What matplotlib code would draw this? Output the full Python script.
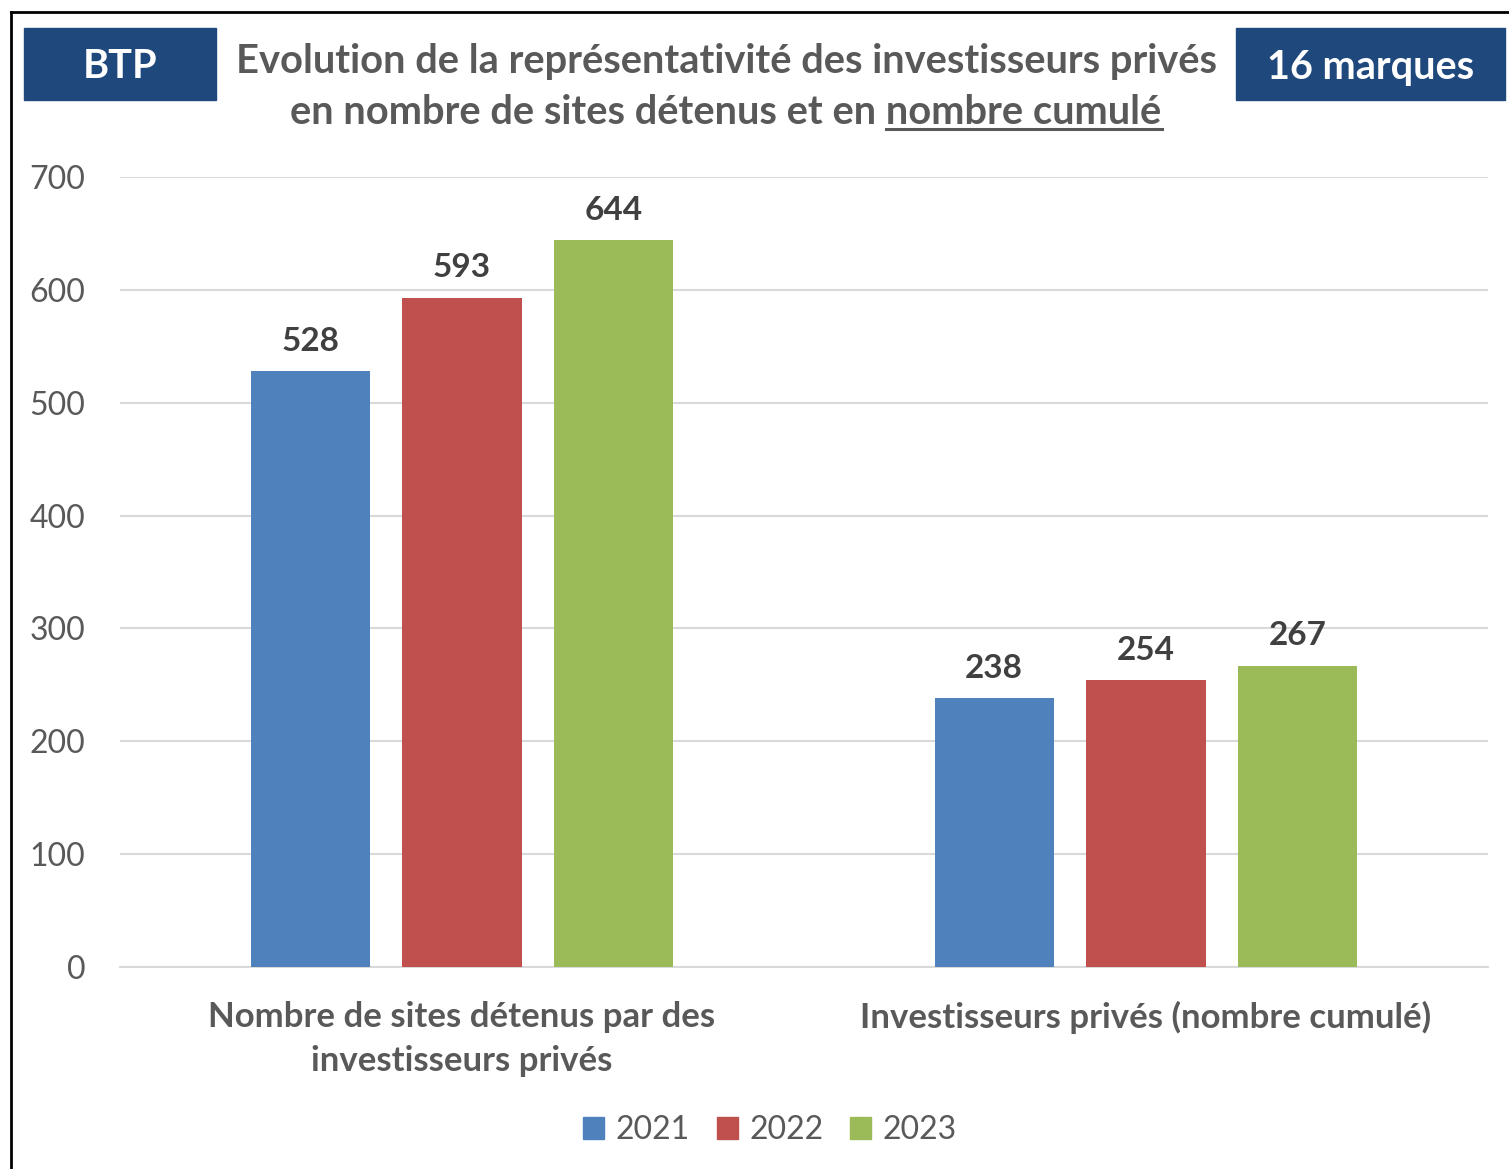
import matplotlib
matplotlib.use("Agg")
import matplotlib.pyplot as plt
from matplotlib.lines import Line2D
from matplotlib.patches import Rectangle
import numpy as np

plt.rcParams["font.family"] = ["Lato", "DejaVu Sans"]

categories = ["Nombre de sites détenus par des\ninvestisseurs privés",
              "Investisseurs privés (nombre cumulé)"]
years = ["2021", "2022", "2023"]
values = {
    "2021": [528, 238],
    "2022": [593, 254],
    "2023": [644, 267],
}
colors = ["#4F81BD", "#C0504D", "#9BBB59"]
yticks = [0, 100, 200, 300, 400, 500, 600, 700]

W, H = 1509, 1169
fig = plt.figure(figsize=(W / 100, H / 100), dpi=100)


def fx(px):
    return px / W


def fy(py):
    return 1 - py / H


ax = fig.add_axes([fx(120), fy(967), fx(1488) - fx(120), fy(177) - fy(967)])

x = np.arange(len(categories))
width = 0.174
step = 0.222
for i, (yr, col) in enumerate(zip(years, colors)):
    pos = x + (i - 1) * step
    bars = ax.bar(pos, values[yr], width=width, color=col, zorder=3, label=yr)
    for b, v in zip(bars, values[yr]):
        ax.annotate(f"{v}", (b.get_x() + b.get_width() / 2, v),
                    xytext=(0, 11), textcoords="offset points",
                    ha="center", va="bottom", fontsize=24,
                    fontweight="bold", color="#404040")

ax.set_xlim(-0.5, 1.5)
ax.set_ylim(0, 700)
ax.set_yticks(yticks)
ax.yaxis.grid(True, color="#D9D9D9", linewidth=1.5, zorder=0)
ax.set_axisbelow(True)
for s in ["top", "right", "left"]:
    ax.spines[s].set_visible(False)
ax.spines["bottom"].set_color("#D9D9D9")
ax.spines["bottom"].set_linewidth(1.5)
ax.tick_params(axis="y", length=0, labelsize=23, labelcolor="#595959", pad=25)
ax.tick_params(axis="x", length=0)
ax.set_xticks(x)
ax.set_xticklabels([])

# category labels
for xi, lab in zip(x, categories):
    ax.text(xi, -30, lab, ha="center", va="top", fontsize=25,
            fontweight="bold", color="#595959", linespacing=1.45)

# title
t1 = fig.text(fx(726), fy(61), "Evolution de la représentativité des investisseurs privés",
              ha="center", va="center", fontsize=28.7, fontweight="bold", color="#595959")
t2 = fig.text(fx(726), fy(113), "en nombre de sites détenus et en nombre cumulé",
              ha="center", va="center", fontsize=28.7, fontweight="bold", color="#595959")

# boxes
for (x0, x1, txt) in [(24, 216, "BTP"), (1236, 1505, "16 marques")]:
    fig.patches.append(Rectangle((fx(x0), fy(100)), fx(x1) - fx(x0), fy(28) - fy(100),
                                 transform=fig.transFigure, color="#1F497D", zorder=2))
    fig.text(fx((x0 + x1) / 2), fy(67), txt, ha="center", va="center",
             fontsize=28.5, fontweight="bold", color="white", zorder=3)

# underline "nombre cumulé"
fig.canvas.draw()
r = fig.canvas.get_renderer()
bb = t2.get_window_extent(r)
tmp = fig.text(0, 0, "nombre cumulé", fontsize=28.7, fontweight="bold")
wsuf = tmp.get_window_extent(r).width
tmp.remove()
uy = bb.y0 + 3
fig.add_artist(Line2D([(bb.x1 - wsuf) / W, bb.x1 / W], [uy / H, uy / H],
                      transform=fig.transFigure, color="#595959", linewidth=2.2))

# legend
handles = [Rectangle((0, 0), 1, 1, color=c) for c in colors]
fig.legend(handles, years, loc="center", bbox_to_anchor=(fx(770), fy(1130)),
           ncol=3, frameon=False, fontsize=23, handlelength=0.66, handleheight=0.66,
           handletextpad=0.35, columnspacing=0.85, labelcolor="#595959")

# outer border
fig.add_artist(Line2D([fx(11), fx(11)], [fy(12), 0], transform=fig.transFigure,
                      color="black", linewidth=2))
fig.add_artist(Line2D([fx(11), 1], [fy(12), fy(12)], transform=fig.transFigure,
                      color="black", linewidth=2))

fig.savefig("out.png", dpi=100)
